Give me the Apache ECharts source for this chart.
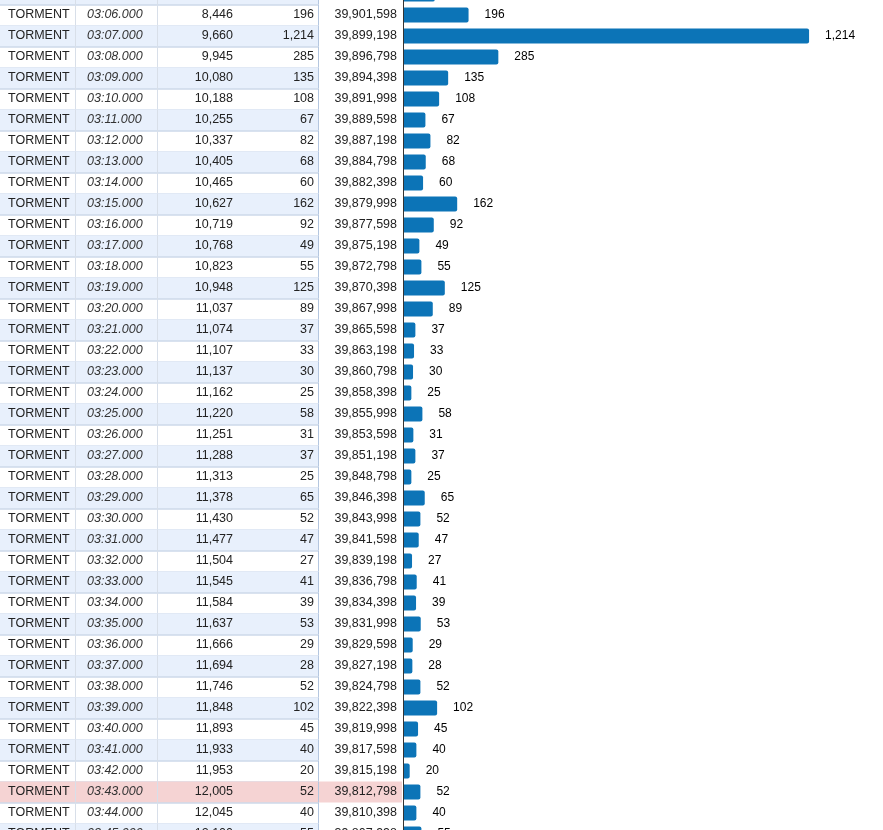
<!DOCTYPE html>
<html><head><meta charset="utf-8">
<script src="https://cdn.jsdelivr.net/npm/echarts@6/dist/echarts.min.js"></script>
<style>html,body{margin:0;padding:0;background:#fff}#c{width:883px;height:830px}</style>
</head><body><div id="c"></div>
<script>
const names = ['TORMENT','TORMENT','TORMENT','TORMENT','TORMENT','TORMENT','TORMENT','TORMENT','TORMENT','TORMENT','TORMENT','TORMENT','TORMENT','TORMENT','TORMENT','TORMENT','TORMENT','TORMENT','TORMENT','TORMENT','TORMENT','TORMENT','TORMENT','TORMENT','TORMENT','TORMENT','TORMENT','TORMENT','TORMENT','TORMENT','TORMENT','TORMENT','TORMENT','TORMENT','TORMENT','TORMENT','TORMENT','TORMENT','TORMENT','TORMENT','TORMENT']
const times = ['03:05.000','03:06.000','03:07.000','03:08.000','03:09.000','03:10.000','03:11.000','03:12.000','03:13.000','03:14.000','03:15.000','03:16.000','03:17.000','03:18.000','03:19.000','03:20.000','03:21.000','03:22.000','03:23.000','03:24.000','03:25.000','03:26.000','03:27.000','03:28.000','03:29.000','03:30.000','03:31.000','03:32.000','03:33.000','03:34.000','03:35.000','03:36.000','03:37.000','03:38.000','03:39.000','03:40.000','03:41.000','03:42.000','03:43.000','03:44.000','03:45.000']
const totals = [8250,8446,9660,9945,10080,10188,10255,10337,10405,10465,10627,10719,10768,10823,10948,11037,11074,11107,11137,11162,11220,11251,11288,11313,11378,11430,11477,11504,11545,11584,11637,11666,11694,11746,11848,11893,11933,11953,12005,12045,12100]
const values = [95,196,1214,285,135,108,67,82,68,60,162,92,49,55,125,89,37,33,30,25,58,31,37,25,65,52,47,27,41,39,53,29,28,52,102,45,40,20,52,40,55]
const remaining = [39903998,39901598,39899198,39896798,39894398,39891998,39889598,39887198,39884798,39882398,39879998,39877598,39875198,39872798,39870398,39867998,39865598,39863198,39860798,39858398,39855998,39853598,39851198,39848798,39846398,39843998,39841598,39839198,39836798,39834398,39831998,39829598,39827198,39824798,39822398,39819998,39817598,39815198,39812798,39810398,39807998]
const highlighted = '03:43.000'

const fmt = n => n.toLocaleString('en-US')
const font = '12.5px Arial, "Liberation Sans", sans-serif'

const chart = echarts.init(document.getElementById('c'))
chart.setOption({
  animation: false,
  grid: { left: 403, right: 0, top: 0, bottom: 0 },
  xAxis: { type: 'value', min: 0, max: 1435, show: false },
  yAxis: {
    type: 'value', inverse: true, min: 1 - 15 / 21, max: 1 + 815 / 21,
    axisLine: { show: true, lineStyle: { color: '#333', width: 1 } },
    axisTick: { show: false }, axisLabel: { show: false }, splitLine: { show: false }
  },
  series: [
    {
      type: 'custom',
      clip: false,
      silent: true,
      data: times.map((t, i) => [0, i]),
      renderItem: (params, api) => {
        const i = api.value(1)
        const y = api.coord([0, i])[1]
        const top = y - 10.5
        const odd = parseInt(times[i].slice(3, 5)) % 2 === 1
        const hi = times[i] === highlighted
        const kids = []
        if (hi) kids.push({ type: 'rect', shape: { x: 0, y: top, width: 402, height: 21 }, style: { fill: '#f5d3d3' } })
        else if (odd) kids.push({ type: 'rect', shape: { x: 0, y: top, width: 318, height: 21 }, style: { fill: '#e8f0fc' } })
        kids.push({ type: 'line', shape: { x1: 0, y1: top + 21.5, x2: 318, y2: top + 21.5 }, style: { stroke: '#b4c6df', lineWidth: 1 } })
        for (const x of [75.5, 157.5]) kids.push({ type: 'line', shape: { x1: x, y1: top, x2: x, y2: top + 21 }, style: { stroke: '#d8dfe9', lineWidth: 1 } })
        kids.push({ type: 'line', shape: { x1: 318.5, y1: top, x2: 318.5, y2: top + 21 }, style: { stroke: '#b4c6df', lineWidth: 1 } })
        const txt = (x, s, align, italic, color) => ({ type: 'text', x, y, style: { text: s, font: (italic ? 'italic ' : '') + font, fill: color || '#222', align, verticalAlign: 'middle' } })
        kids.push(txt(8, names[i], 'left'))
        kids.push(txt(87, times[i], 'left', true, '#333'))
        kids.push(txt(233, fmt(totals[i]), 'right'))
        kids.push(txt(314, fmt(values[i]), 'right'))
        kids.push(txt(397, fmt(remaining[i]), 'right'))
        return { type: 'group', children: kids }
      }
    },
    {
      type: 'custom',
      clip: true,
      data: values.map((v, i) => [v, i]),
      renderItem: (params, api) => {
        const end = api.coord([api.value(0), api.value(1)])
        const start = api.coord([0, api.value(1)])
        return {
          type: 'group',
          children: [
            { type: 'rect', shape: { x: start[0] + 1, y: end[1] - 7.5, width: end[0] - start[0] - 1, height: 15, r: [0, 2, 2, 0] }, style: { fill: '#0c74b7' } },
            { type: 'text', x: end[0] + 16, y: end[1], style: { text: fmt(api.value(0)), font: '12px Arial, sans-serif', fill: '#000', verticalAlign: 'middle' } }
          ]
        }
      }
    }
  ]
})
</script></body></html>
